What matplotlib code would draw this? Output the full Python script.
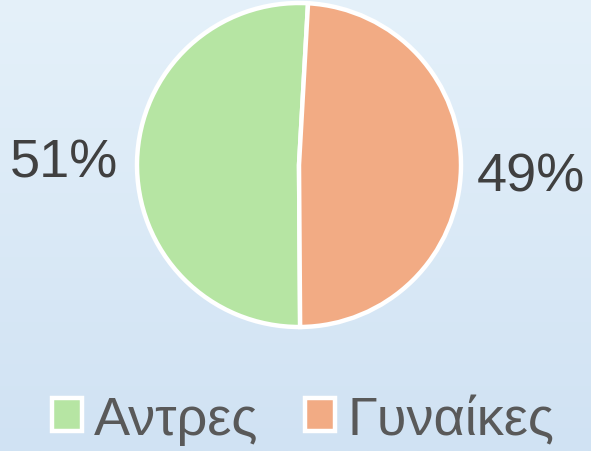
import numpy as np
import matplotlib
matplotlib.use("Agg")
import matplotlib.pyplot as plt
from matplotlib.colors import LinearSegmentedColormap

plt.rcParams['font.family'] = ['Liberation Sans', 'DejaVu Sans']

categories = ["Αντρες", "Γυναίκες"]
values = [51, 49]
colors = ["#B6E5A3", "#F2AB84"]

W, H = 591, 452
fig = plt.figure(figsize=(W / 100, H / 100), dpi=100)

# background gradient
bg = fig.add_axes([0, 0, 1, 1], zorder=0)
grad = np.linspace(0, 1, 256).reshape(-1, 1)
cmap = LinearSegmentedColormap.from_list("bg", ["#E5F1FA", "#D0E2F3"])
bg.imshow(grad, aspect="auto", cmap=cmap, extent=[0, 1, 0, 1], origin="upper")
bg.axis("off")

ax = fig.add_axes([0, 0, 1, 1], zorder=1)
ax.patch.set_alpha(0)
cx, cy, r = 299, H - 166, 162
wedges, _ = ax.pie(values, colors=colors, startangle=86.8, counterclock=True,
                   center=(cx, cy), radius=r,
                   wedgeprops=dict(edgecolor="white", linewidth=3.2))
ax.set_xlim(0, W)
ax.set_ylim(0, H)
ax.axis("off")

total = sum(values)
pcts = [f"{round(v * 100 / total)}%" for v in values]
ax.text(64, H - 163, pcts[0], fontsize=39, color="#404040", ha="center", va="center")
ax.text(531, H - 178, pcts[1], fontsize=39, color="#404040", ha="center", va="center")

leg = ax.legend(wedges, categories, loc="center", bbox_to_anchor=(303 / W, (H - 421) / H),
                ncol=2, frameon=False, fontsize=39, handlelength=0.56, handleheight=0.56,
                handletextpad=0.22, columnspacing=0.85, labelcolor="#595959",
                borderpad=0, borderaxespad=0)

fig.savefig("out.png", dpi=100)
